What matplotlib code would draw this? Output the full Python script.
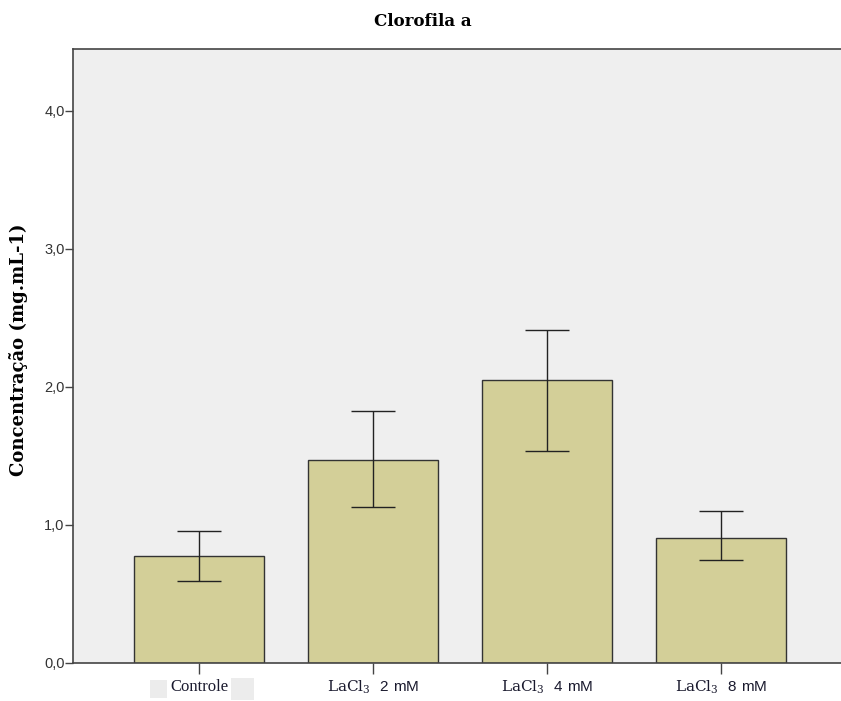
import matplotlib
matplotlib.use("Agg")
import matplotlib.pyplot as plt
from matplotlib.patches import Rectangle
from matplotlib.ticker import FuncFormatter

plt.rcParams["mathtext.fontset"] = "custom"
plt.rcParams["mathtext.rm"] = "DejaVu Serif"
plt.rcParams["mathtext.it"] = "DejaVu Serif"
plt.rcParams["mathtext.sf"] = "Liberation Sans"

categories = ["Controle",
              r"$\mathrm{LaCl_3}\ \ \mathsf{2\ mM}$",
              r"$\mathrm{LaCl_3}\ \ \mathsf{4\ mM}$",
              r"$\mathrm{LaCl_3}\ \ \mathsf{8\ mM}$"]
means = [0.775, 1.471, 2.053, 0.908]
ci_low = [0.592, 1.133, 1.536, 0.746]
ci_high = [0.954, 1.826, 2.411, 1.099]
yticks = [0.0, 1.0, 2.0, 3.0, 4.0]

W, H = 841, 701
fig = plt.figure(figsize=(W / 100, H / 100), dpi=100)
ax = fig.add_axes([73 / W, (H - 663) / H, (850 - 73) / W, (663 - 49) / H])
ax.set_facecolor("#efefef")

x = list(range(len(categories)))
yerr = [[m - lo for m, lo in zip(means, ci_low)], [hi - m for m, hi in zip(means, ci_high)]]
ax.bar(x, means, width=0.747, color="#d3cf98", edgecolor="#333333", linewidth=1.0, zorder=2)
ax.errorbar(x, means, yerr=yerr, fmt="none", ecolor="#222222", elinewidth=1.0,
            capsize=15.5, capthick=1.0, zorder=3)

ax.set_xlim(-0.724, (850 - 199) / 174)
ax.set_ylim(0, 4.449)
ax.set_yticks(yticks)
ax.yaxis.set_major_formatter(FuncFormatter(lambda v, p: f"{v:.1f}".replace(".", ",")))
ax.set_xticks(x)
ax.set_xticklabels(categories, fontsize=11, color="#1a1a2e")
ax.get_xticklabels()[0].set_fontfamily("Liberation Serif")
ax.get_xticklabels()[0].set_fontsize(12)
for lab in ax.get_yticklabels():
    lab.set_fontfamily("Liberation Sans")
    lab.set_fontsize(10.5)
    lab.set_color("#333333")

ax.tick_params(axis="y", length=5.5, width=1, color="#444444", pad=0.5)
ax.tick_params(axis="x", length=8, width=1, color="#444444", pad=3.5)
ax.spines["right"].set_visible(False)
for s in ["left", "top", "bottom"]:
    ax.spines[s].set_color("#444444")
    ax.spines[s].set_linewidth(1.2)

ax.set_ylabel("Concentração (mg.mL-1)", fontfamily="DejaVu Serif", fontsize=13,
              fontweight="bold")
ax.yaxis.set_label_coords(-0.058, 0.51)
fig.text(423 / W, 1 - 22 / H, "Clorofila a", ha="center", va="center",
         fontfamily="DejaVu Serif", fontsize=12, fontweight="bold")

# light label boxes beside the first category name
for (x0, y0, w, h) in [(150, 680, 17, 18), (231, 678, 23, 22)]:
    fig.patches.append(Rectangle((x0 / W, 1 - (y0 + h) / H), w / W, h / H,
                                 transform=fig.transFigure, facecolor="#ececec",
                                 edgecolor="none", zorder=0))

fig.savefig("out.png", dpi=100)
